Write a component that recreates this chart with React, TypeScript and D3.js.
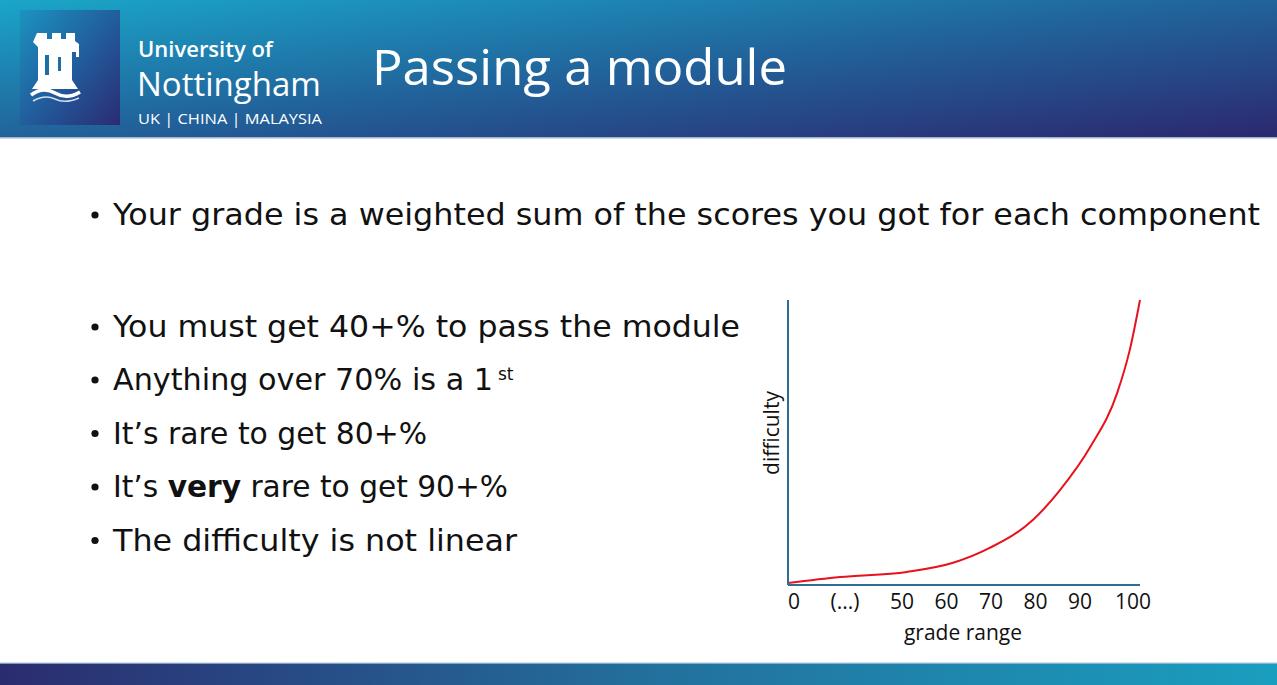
import React from "react";
import * as d3 from "d3";

// slide text
const bullets: string[] = [
  "Your grade is a weighted sum of the scores you got for each component",
  "You must get 40+% to pass the module",
  "Anything over 70% is a 1",
  "It’s rare to get 80+%",
  "It’s very rare to get 90+%",
  "The difficulty is not linear",
];
const bulletWidths: number[] = [1147, 627, 380, 314, 395, 404];

// chart data
const tickValues: number[] = [0, 25, 50, 60, 70, 80, 90, 100];
const tickLabels: string[] = ["0", "(...)", "50", "60", "70", "80", "90", "100"];
const grade: number[] = [0, 22.8, 51.1, 61.3, 69.7, 79.4, 85.5, 91.7, 96.2, 98.3, 100];
const difficulty: number[] = [0.7, 2.8, 4.6, 7.7, 13, 22.8, 33.3, 48.4, 67.4, 82.5, 100];

const W = 1277;
const H = 685;
const FONT = "'Open Sans', 'Noto Sans', sans-serif";
const BODY_FONT = "'DejaVu Sans', 'Open Sans', sans-serif";

const App: React.FC = () => {
  // grade axis is not linear on the slide: the 0..50 part is squeezed
  const x = d3.scaleLinear().domain([0, 50, 90, 100]).range([788, 902, 1080, 1140]);
  const y = d3.scaleLinear().domain([0, 100]).range([585, 300]);

  const line = d3
    .line<number>()
    .x((_, i) => x(grade[i]))
    .y((d) => y(d))
    .curve(d3.curveMonotoneX);

  const bulletY = [225, 337, 390, 443.5, 497, 550.5];
  const tickDx = (i: number) => (i === 0 ? 6 : i === tickLabels.length - 1 ? -7 : 0);

  return (
    <div style={{ position: "fixed", left: 0, top: 0, width: W, height: H }}>
      <svg width={W} height={H} style={{ display: "block" }}>
        <defs>
          <linearGradient id="hdr" x1="0" y1="0" x2="1" y2="1">
            <stop offset="0" stopColor="#1aa6c8" />
            <stop offset="0.5" stopColor="#21639b" />
            <stop offset="1" stopColor="#2c286f" />
          </linearGradient>
          <linearGradient id="logo" x1="0" y1="0" x2="1" y2="1">
            <stop offset="0" stopColor="#1b93c0" />
            <stop offset="0.55" stopColor="#22599a" />
            <stop offset="1" stopColor="#2b2b72" />
          </linearGradient>
          <linearGradient id="ftr" x1="0" y1="0" x2="1" y2="0">
            <stop offset="0" stopColor="#2b2c70" />
            <stop offset="0.5" stopColor="#236f9c" />
            <stop offset="1" stopColor="#1a9ebf" />
          </linearGradient>
        </defs>

        <rect width={W} height={H} fill="#fff" />

        {/* header band */}
        <rect x={0} y={0} width={W} height={137} fill="url(#hdr)" />
        <rect x={0} y={137} width={W} height={1.5} fill="#9fb4d0" />

        {/* logo */}
        <rect x={20} y={10} width={100} height={115} fill="url(#logo)" />
        <g fill="#fff">
          <path d="M37,33 h10 v6 h5 v-6 h9 v6 h5 v-6 h9 v8 l4,3 v13 h-3 v-5 h-4 v28 l6,9 h-46 l6,-9 v-33 l-5,-5 z" />
        </g>
        <rect x={45} y={55} width={4} height={20} fill="#1e6ea6" />
        <rect x={58} y={57} width={3} height={14} fill="#1e6ea6" />
        <path d="M31,95 q12,-9 24,-2 t25,-1" fill="none" stroke="#fff" strokeWidth={3.5} />
        <path d="M33,101 q12,-7 22,-2 t24,-1" fill="none" stroke="#fff" strokeWidth={1.5} opacity={0.8} />

        <g fill="#fff" fontFamily={FONT}>
          <text x={138} y={57} fontSize={22} fontWeight={600}>University of</text>
          <text x={137} y={96} fontSize={33} fontWeight={500}>Nottingham</text>
          <text x={138} y={124} fontSize={15} textLength={184} lengthAdjust="spacingAndGlyphs">
            UK | CHINA | MALAYSIA
          </text>
          <text x={372} y={85} fontSize={50} textLength={415} lengthAdjust="spacingAndGlyphs">
            Passing a module
          </text>
        </g>

        {/* bullets */}
        <g fill="#111" fontFamily={BODY_FONT} fontSize={30}>
          {bullets.map((b, i) => (
            <g key={i}>
              <circle cx={95} cy={bulletY[i] - 10} r={3.6} />
              {i === 2 ? (
                <>
                  <text x={113} y={bulletY[i]} textLength={bulletWidths[i]} lengthAdjust="spacingAndGlyphs">
                    {b}
                  </text>
                  <text x={498} y={bulletY[i] - 10} fontSize={17}>st</text>
                </>
              ) : i === 4 ? (
                <text x={113} y={bulletY[i]} textLength={bulletWidths[i]} lengthAdjust="spacingAndGlyphs">
                  It’s <tspan fontWeight={700}>very</tspan> rare to get 90+%
                </text>
              ) : (
                <text x={113} y={bulletY[i]} textLength={bulletWidths[i]} lengthAdjust="spacingAndGlyphs">
                  {b}
                </text>
              )}
            </g>
          ))}
        </g>

        {/* chart */}
        <path d={line(difficulty) ?? ""} fill="none" stroke="#e8121c" strokeWidth={2} />
        <line x1={x(0)} x2={x(0)} y1={y(100)} y2={y(0)} stroke="#2e6e93" strokeWidth={2} />
        <line x1={x(0)} x2={x(100)} y1={y(0)} y2={y(0)} stroke="#2e6e93" strokeWidth={2} />

        <g fontFamily={FONT} fontSize={21} fill="#111" textAnchor="middle">
          {tickValues.map((v, i) => (
            <text key={v} x={x(v) + tickDx(i)} y={609}>{tickLabels[i]}</text>
          ))}
          <text x={963} y={640}>grade range</text>
          <text transform="translate(779,433) rotate(-90)">difficulty</text>
        </g>

        {/* footer band */}
        <rect x={0} y={663} width={W} height={22} fill="url(#ftr)" />
        <rect x={0} y={662.5} width={W} height={1.2} fill="#a9c8da" />
      </svg>
    </div>
  );
};

export default App;
